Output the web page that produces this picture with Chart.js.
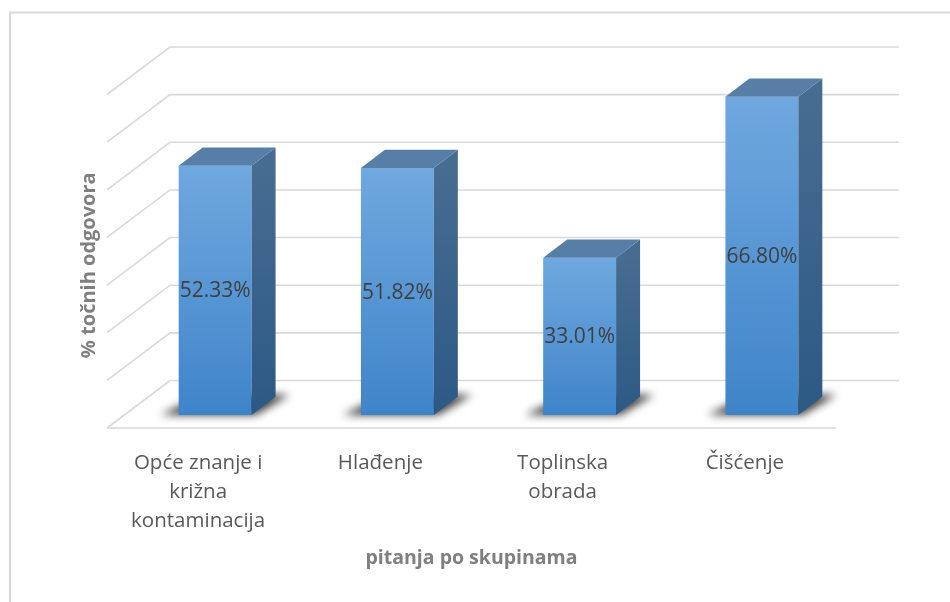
<!DOCTYPE html>
<html>
<head>
<meta charset="utf-8">
<script src="https://cdn.jsdelivr.net/npm/chart.js@4/dist/chart.umd.min.js"></script>
<style>
  html, body { margin: 0; padding: 0; background: #ffffff; }
  canvas { display: block; }
</style>
</head>
<body>
<canvas id="chart_1" width="950" height="602"></canvas>
<script>
var categories = [
  ['Opće znanje i', 'križna', 'kontaminacija'],
  ['Hlađenje'],
  ['Toplinska', 'obrada'],
  ['Čišćenje']
];
var values = [52.33, 51.82, 33.01, 66.80];
var gridValues = [0, 10, 20, 30, 40, 50, 60, 70];
var xTitle = 'pitanja po skupinama';
var yTitle = '% točnih odgovora';

// 3d depth of the floor, and where the bars sit inside it (bar front = chart area)
var DEPTH_X = 63;
var DEPTH_Y = 47.5;
var FRONT_X = -17;
var FRONT_Y = 13;
var BAR_DX = 24;
var BAR_DY = 18.3;

var FONT = '"Open Sans", "Noto Sans", sans-serif';

var frontFill = function (context) {
  var chart = context.chart;
  if (!chart.chartArea) {
    return '#5b9bd5';
  }
  var yScale = chart.scales.y;
  var top = yScale.getPixelForValue(context.raw);
  var base = yScale.getPixelForValue(0);
  var g = chart.ctx.createLinearGradient(0, top, 0, base);
  g.addColorStop(0, '#70a8df');
  g.addColorStop(1, '#3f84c9');
  return g;
};

var walls = {
  id: 'walls',
  beforeDraw: function (chart) {
    var ctx = chart.ctx;
    ctx.save();
    ctx.fillStyle = '#ffffff';
    ctx.fillRect(0, 0, chart.width, chart.height);
    // outer chart border, only top and left show
    ctx.strokeStyle = '#d9d9d9';
    ctx.lineWidth = 2;
    ctx.strokeRect(10, 12.5, chart.width + 20, chart.height + 20);
    ctx.restore();
  },
  beforeDatasetsDraw: function (chart) {
    var ctx = chart.ctx;
    var xScale = chart.scales.x;
    var yScale = chart.scales.y;
    var fx = xScale.left + FRONT_X;
    var bx = fx + DEPTH_X;
    var bxr = xScale.right + FRONT_X + DEPTH_X;

    ctx.save();
    ctx.strokeStyle = '#d9d9d9';
    ctx.lineWidth = 1.6;
    _forEach(gridValues, function (v) {
      var fy = yScale.getPixelForValue(v) + FRONT_Y;
      var by = fy - DEPTH_Y;
      ctx.beginPath();
      ctx.moveTo(fx, fy);
      ctx.lineTo(bx, by);
      ctx.lineTo(bxr, by);
      ctx.stroke();
    });
    // front edge of the floor
    var y0 = yScale.getPixelForValue(0) + FRONT_Y;
    ctx.beginPath();
    ctx.moveTo(fx, y0);
    ctx.lineTo(xScale.right + FRONT_X, y0);
    ctx.stroke();

    // soft shadows under the bars
    var meta = chart.getDatasetMeta(0);
    ctx.filter = 'blur(4px)';
    ctx.fillStyle = 'rgba(0,0,0,0.75)';
    _forEach(meta.data, function (bar) {
      var l = bar.x - bar.width / 2;
      var r = bar.x + bar.width / 2;
      var b = bar.base;
      ctx.beginPath();
      ctx.moveTo(l - 18, b);
      ctx.lineTo(r + 4, b);
      ctx.lineTo(r + BAR_DX + 14, b - BAR_DY - 2);
      ctx.lineTo(l + BAR_DX, b - BAR_DY - 2);
      ctx.closePath();
      ctx.fill();
    });
    ctx.restore();
  },
  afterDatasetsDraw: function (chart) {
    var ctx = chart.ctx;
    var meta = chart.getDatasetMeta(0);
    ctx.save();
    _forEach(meta.data, function (bar, i) {
      var l = bar.x - bar.width / 2;
      var r = bar.x + bar.width / 2;
      var t = bar.y;
      var b = bar.base;

      // right side face
      var side = ctx.createLinearGradient(0, t, 0, b);
      side.addColorStop(0, '#476c91');
      side.addColorStop(1, '#2c5985');
      ctx.fillStyle = side;
      ctx.beginPath();
      ctx.moveTo(r, t);
      ctx.lineTo(r + BAR_DX, t - BAR_DY);
      ctx.lineTo(r + BAR_DX, b - BAR_DY);
      ctx.lineTo(r, b);
      ctx.closePath();
      ctx.fill();

      // top face
      ctx.fillStyle = '#577ea7';
      ctx.beginPath();
      ctx.moveTo(l, t);
      ctx.lineTo(r, t);
      ctx.lineTo(r + BAR_DX, t - BAR_DY);
      ctx.lineTo(l + BAR_DX, t - BAR_DY);
      ctx.closePath();
      ctx.fill();

      // value label in the middle of the front face
      ctx.fillStyle = '#404040';
      ctx.font = '21px ' + FONT;
      ctx.textAlign = 'center';
      ctx.textBaseline = 'middle';
      ctx.fillText(values[i].toFixed(2) + '%', bar.x, (t + b) / 2 + 1);
    });
    ctx.restore();
  },
  afterDraw: function (chart) {
    var ctx = chart.ctx;
    var xScale = chart.scales.x;
    var yScale = chart.scales.y;
    var baseY = yScale.getPixelForValue(0) + FRONT_Y;

    ctx.save();
    // category labels under the front edge
    ctx.fillStyle = '#595959';
    ctx.font = '20.5px ' + FONT;
    ctx.textAlign = 'center';
    ctx.textBaseline = 'alphabetic';
    _forEach(categories, function (lines, i) {
      var cx = xScale.getPixelForValue(i) + FRONT_X;
      _forEach(lines, function (line, j) {
        ctx.fillText(line, cx, baseY + 41 + j * 29);
      });
    });

    // axis titles
    ctx.fillStyle = '#7f7f7f';
    ctx.font = 'bold 19.5px ' + FONT;
    ctx.fillText(xTitle, (xScale.left + xScale.right) / 2 + FRONT_X, 564);

    ctx.translate(95, (chart.chartArea.top + chart.chartArea.bottom) / 2 + 17);
    ctx.rotate(-Math.PI / 2);
    ctx.font = 'bold 20px ' + FONT;
    ctx.fillText(yTitle, 0, 0);
    ctx.restore();
  }
};

var _forEach = function (arr, fn) {
  for (var i = 0; i < arr.length; i++) {
    fn(arr[i], i);
  }
};

var ctx = document.getElementById('chart_1').getContext('2d');
var chart = new Chart(ctx, {
  type: 'bar',
  data: {
    labels: categories,
    datasets: [{
      data: values,
      backgroundColor: frontFill,
      borderWidth: 0,
      categoryPercentage: 1,
      barPercentage: 0.4
    }]
  },
  options: {
    responsive: false,
    animation: false,
    devicePixelRatio: 1,
    layout: {
      padding: { left: 124, right: 97, top: 81.5, bottom: 187 }
    },
    plugins: {
      legend: { display: false },
      tooltip: { enabled: false }
    },
    scales: {
      x: { display: false },
      y: { display: false, min: 0, max: 70 }
    }
  },
  plugins: [walls]
});
</script>
</body>
</html>
